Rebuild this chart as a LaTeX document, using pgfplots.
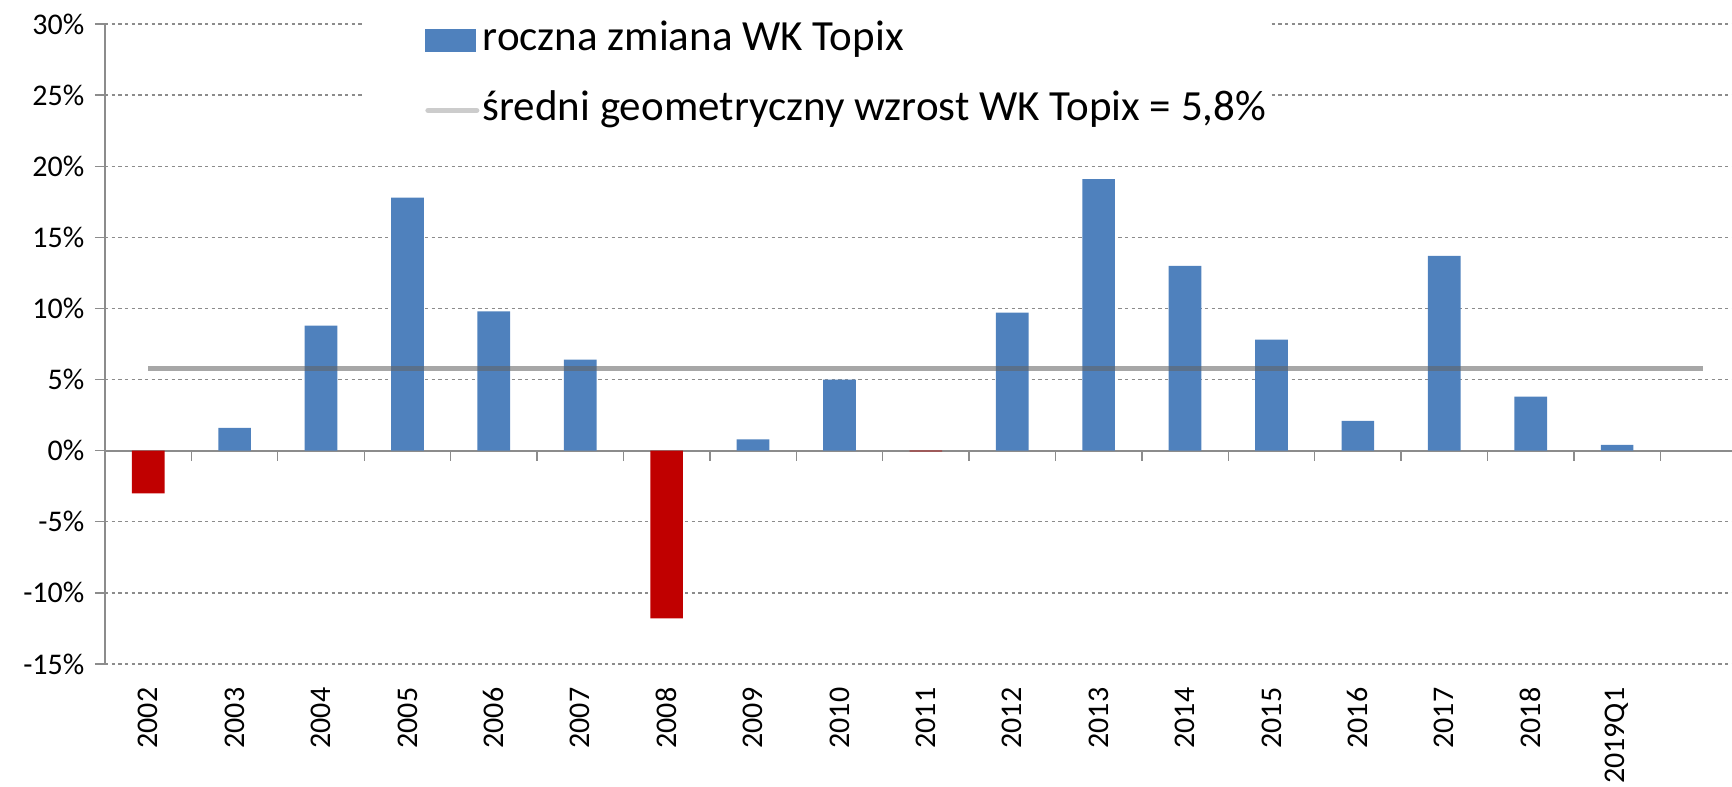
\documentclass[border=0pt]{standalone}
\usepackage{pgfplots}
\usepackage{pgfplotstable}
\pgfplotsset{compat=1.18}
\usepackage{fontspec}
\setmainfont{Carlito}
\definecolor{barblue}{HTML}{4F81BD}
\definecolor{barred}{HTML}{C00000}
\definecolor{axisgray}{HTML}{8C8C8C}
\definecolor{gridgray}{HTML}{8C8C8C}
\definecolor{avggray}{HTML}{646464}
\definecolor{leggray}{HTML}{A6A6A6}

\pgfplotsset{
  barlegend/.style={legend image code/.code={\fill[barblue] (0pt,-3.45pt) rectangle (15.3pt,3.45pt);}},
  linelegend/.style={legend image code/.code={\draw[leggray, line width=1.6pt, line cap=round] (0.8pt,0pt) -- (15.4pt,0pt);}},
}

\pgfplotstableread{
x y
1 1.6
2 8.8
3 17.8
4 9.8
5 6.4
7 0.8
8 5.0
10 9.7
11 19.1
12 13.0
13 7.8
14 2.1
15 13.7
16 3.8
17 0.4
}\pos
\pgfplotstableread{
x y
0 -3.0
6 -11.8
9 -0.05
}\negs

\begin{document}
\begin{tikzpicture}
\begin{axis}[
  name=ax,
  width=488.1pt, height=192pt, scale only axis,
  xmin=-0.5, xmax=18.33, ymin=-15, ymax=30,
  clip=false,
  axis y line*=left,
  axis x line*=bottom,
  x axis line style={draw=none},
  y axis line style={draw=axisgray, line width=0.4pt, -},
  ytick={-15,-10,...,30},
  yticklabel={\pgfmathprintnumber[assume math mode=true]{\tick}\%},
  y tick label style={font=\fontsize{9}{10}\selectfont, inner xsep=3pt},
  ytick style={draw=axisgray, line width=0.4pt},
  tick align=outside,
  major tick length=3pt,
  xtick={0,...,17},
  xticklabels={2002,2003,2004,2005,2006,2007,2008,2009,2010,2011,2012,2013,2014,2015,2016,2017,2018,2019Q1},
  x tick label style={font=\fontsize{9}{10}\selectfont, rotate=90, anchor=east, inner xsep=3.9pt},
  xtick style={draw=none},
  ymajorgrids,
  grid style={draw=gridgray, line width=0.4pt, dash pattern=on 1pt off 1pt},
  legend cell align=left,
  legend style={at={(axis cs:3.2,30.3)}, anchor=north west, draw=none, fill=none,
    inner sep=0pt, row sep=9pt, font=\fontsize{12.9}{14}\selectfont,
    nodes={inner xsep=1pt, inner ysep=0pt, text height=9pt, text depth=3pt}},
]
\fill[white] (axis cs:2.51,22.5) rectangle (axis cs:12.96,31.5);
\draw[axisgray, line width=0.5pt] (axis cs:-0.5,0) -- (axis cs:18.33,0);
\pgfplotsinvokeforeach{0.5,1.5,...,17.5}{\draw[axisgray, line width=0.4pt] (axis cs:#1,0) -- ++(0pt,-3.2pt);}
\addplot[ybar, bar width=9.8pt, bar shift=0pt, fill=barblue, draw=none, barlegend]
  table[x=x, y=y] {\pos};
\addlegendentry{roczna zmiana WK Topix}
\addplot[ybar, bar width=9.8pt, bar shift=0pt, fill=barred, draw=none, forget plot]
  table[x=x, y=y] {\negs};
\addplot[avggray, line width=1.5pt, opacity=0.57, mark=none, linelegend]
  coordinates {(0,5.8) (18,5.8)};
\addlegendentry{średni geometryczny wzrost WK Topix = 5,8\%}
\end{axis}
\pgfresetboundingbox
\path ([xshift=-31.5pt, yshift=-36.6pt]ax.south west) rectangle ([yshift=7.2pt]ax.north east);
\end{tikzpicture}
\end{document}
